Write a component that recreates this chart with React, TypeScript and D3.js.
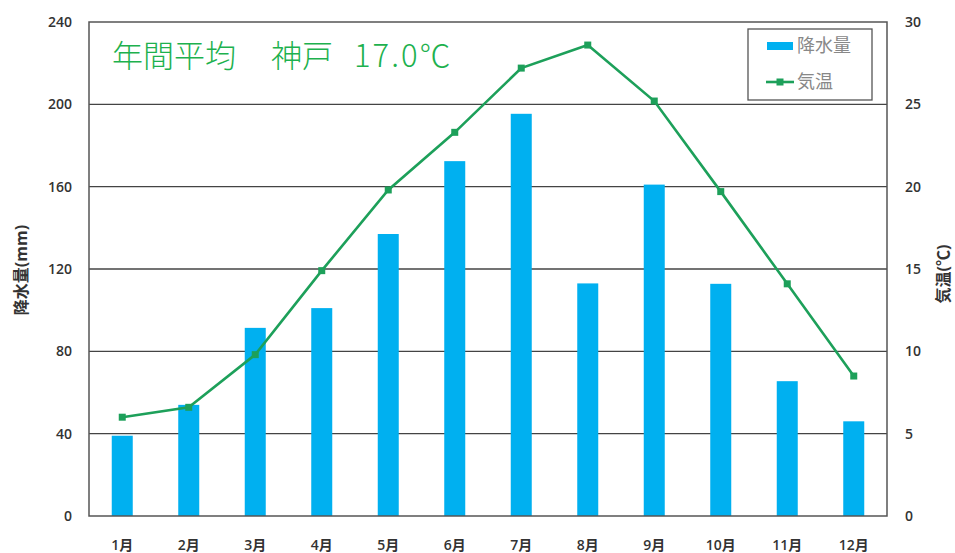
import React from "react";
import * as d3 from "d3";

const months = ["1月","2月","3月","4月","5月","6月","7月","8月","9月","10月","11月","12月"];
const rain = [39, 54, 91.4, 101, 137, 172.4, 195.4, 113, 161, 112.8, 65.5, 46];
const temp = [6.0, 6.6, 9.8, 14.9, 19.8, 23.3, 27.2, 28.6, 25.2, 19.7, 14.1, 8.5];
const leftTicks = [0, 40, 80, 120, 160, 200, 240];
const rightTicks = [0, 5, 10, 15, 20, 25, 30];
const titleParts = ["年間平均", "神戸", "17.0℃"];

const W = 955, H = 553;
const L = 89, R = 887, T = 22, B = 516;

export default function App() {
  const x = d3.scaleBand<string>().domain(months).range([L, R]).paddingInner(0).paddingOuter(0);
  const yL = d3.scaleLinear().domain([0, 240]).range([B, T]);
  const yR = d3.scaleLinear().domain([0, 30]).range([B, T]);
  const bw = 21;
  const line = d3.line<number>()
    .x((_, i) => (x(months[i]) as number) + x.bandwidth() / 2)
    .y(d => yR(d));
  const font = "'Open Sans', 'Noto Sans CJK JP', sans-serif";
  const cjk = "'Noto Sans CJK JP', sans-serif";
  return (
    <svg width={W} height={H} style={{ position: "absolute", left: 0, top: 0, background: "#fff" }}>
      <rect width={W} height={H} fill="#fff" />
      {leftTicks.filter(t => t > 0 && t < 240).map(t => (
        <line key={t} x1={L} x2={R} y1={yL(t)} y2={yL(t)} stroke="#444" strokeWidth={1.3} />
      ))}
      {months.map((m, i) => (
        <rect key={m} x={(x(m) as number) + x.bandwidth() / 2 - bw / 2} y={yL(rain[i])}
          width={bw} height={B - yL(rain[i])} fill="#00b0f0" />
      ))}
      <rect x={L} y={T} width={R - L} height={B - T} fill="none" stroke="#555" strokeWidth={1.5} />
      <path d={line(temp) || ""} fill="none" stroke="#1da05a" strokeWidth={2.6} />
      {temp.map((t, i) => (
        <rect key={i} x={(x(months[i]) as number) + x.bandwidth() / 2 - 3.5} y={yR(t) - 3.5}
          width={7} height={7} fill="#1da05a" />
      ))}
      {leftTicks.map(t => (
        <text key={t} x={72} y={yL(t) + 5} textAnchor="end" fontFamily={font} fontSize={14}
          fontWeight={600} fill="#333">{t}</text>
      ))}
      {rightTicks.map(t => (
        <text key={t} x={905} y={yR(t) + 5} textAnchor="start" fontFamily={font} fontSize={14}
          fontWeight={600} fill="#333">{t}</text>
      ))}
      {months.map(m => (
        <text key={m} x={(x(m) as number) + x.bandwidth() / 2} y={550} textAnchor="middle"
          fontFamily={font} fontSize={14} fontWeight={600} fill="#333">{m}</text>
      ))}
      <text transform={`translate(27,270) rotate(-90)`} textAnchor="middle" fontFamily={font}
        fontSize={16} fontWeight={700} fill="#333">降水量(mm)</text>
      <text transform={`translate(949,274) rotate(-90)`} textAnchor="middle" fontFamily={font}
        fontSize={16} fontWeight={700} fill="#333">気温(℃)</text>
      <text y={67} fontFamily={cjk} fontSize={31} fontWeight={300} fill="#1db14e">
        <tspan x={112}>{titleParts[0]}</tspan>
        <tspan x={271}>{titleParts[1]}</tspan>
        <tspan x={354} letterSpacing={2}>{titleParts[2]}</tspan>
      </text>
      <rect x={748} y={29} width={124} height={71} fill="#fff" stroke="#555" strokeWidth={1.3} />
      <rect x={767} y={42} width={26} height={8} fill="#00b0f0" />
      <text x={797} y={52} fontFamily={font} fontSize={18} fill="#888">降水量</text>
      <line x1={766} x2={794} y1={82} y2={82} stroke="#1da05a" strokeWidth={2.6} />
      <rect x={776.5} y={78.5} width={7} height={7} fill="#1da05a" />
      <text x={797} y={88} fontFamily={font} fontSize={18} fill="#888">気温</text>
    </svg>
  );
}
